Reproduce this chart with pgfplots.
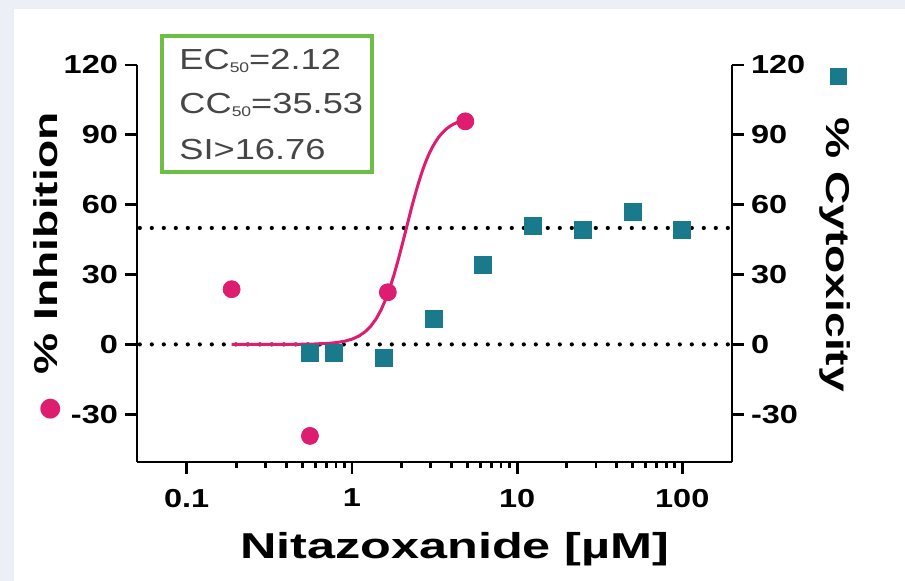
\documentclass[border=0pt]{standalone}
\usepackage{fontspec}
\setmainfont{Liberation Sans}
\newfontfamily\tickfont[FakeStretch=1.25]{Liberation Sans}
\newfontfamily\labfont[FakeStretch=1.4]{Liberation Sans}
\newfontfamily\symfont{DejaVu Sans}
\usepackage{pgfplots}
\pgfplotsset{compat=1.18}

\definecolor{pinkc}{RGB}{222,28,112}
\definecolor{tealc}{RGB}{25,122,140}
\definecolor{greenc}{RGB}{108,190,70}
\definecolor{boxtxt}{RGB}{70,70,70}
\definecolor{bgc}{RGB}{236,239,245}
\newcommand{\sub}[1]{\raisebox{-1.5pt}{\fontsize{7}{7}\selectfont #1}}

\begin{document}
\begin{tikzpicture}
\fill[bgc] (-68.5pt,-59.5pt) rectangle (384pt,231pt);
\fill[white] (-61.5pt,-59.5pt) rectangle (384pt,226.5pt);

% inhibition, left axis
\begin{axis}[
  scale only axis, width=297.5pt, height=198.5pt,
  xmode=log, xmin=0.05, xmax=200, ymin=-50.5, ymax=120,
  minor tick num=0,
  ytick={-30,0,30,60,90,120}, yticklabels={-30,0,30,60,90,120},
  tick align=outside, major tick length=6pt,
  every tick/.style={black, line width=1.4pt},
  axis line style={line width=1.4pt, black},
  tick label style={font=\tickfont\bfseries\fontsize{13}{14}\selectfont},
  clip=false,
  axis x line*=bottom, axis y line*=left,
  xtick={0.1,1,10,100}, xticklabels={0.1,1,10,100},
  xticklabel style={yshift=-4pt},
  xlabel={Nitazoxanide [µM]},
  xlabel style={font=\labfont\bfseries\fontsize{18}{20}\selectfont,
    at={(rel axis cs:0.534,-0.244)}, anchor=base},
  ylabel={{\symfont\fontsize{13}{13}\selectfont\textcolor{pinkc}{●}}\hspace{12pt}\% Inhibition},
  ylabel style={font=\labfont\bfseries\fontsize{16.5}{18}\selectfont,
    at={(rel axis cs:-0.151,0.492)}, anchor=center},
]
\addplot[black, line width=2.1pt, dash pattern=on 0pt off 6pt, line cap=round]
  coordinates {(0.052,0) (200,0)};
\addplot[black, line width=2.1pt, dash pattern=on 0pt off 6pt, line cap=round]
  coordinates {(0.052,50) (200,50)};
% fitted curve (EC50 = 2.12)
\addplot[pinkc, line width=1.5pt] coordinates {
  (0.187,0) (0.25,0) (0.35,0.01) (0.5,0.07) (0.6,0.18) (0.7,0.38)
  (0.8,0.75) (0.9,1.33) (1.0,2.24) (1.1,3.55) (1.2,5.38) (1.3,7.82)
  (1.4,10.94) (1.5,14.76) (1.6,19.28) (1.7,24.4) (1.8,30.0) (1.9,35.9)
  (2.0,41.9) (2.1,47.8) (2.2,53.5) (2.3,58.9) (2.4,63.7) (2.5,68.1)
  (2.6,72.0) (2.7,75.5) (2.8,78.5) (2.9,81.1) (3.05,84.3) (3.2,86.9)
  (3.35,89.0) (3.5,90.6) (3.7,92.3) (3.9,93.6) (4.15,94.7) (4.4,95.5)
  (4.65,96.1) (4.86,96.5)};
\addplot[only marks, mark=*, mark size=4.25pt, pinkc] coordinates {
  (0.187,23.7) (0.557,-39.3) (1.65,22.4) (4.86,95.8)};
\end{axis}

% cytotoxicity, right axis
\begin{axis}[
  scale only axis, width=297.5pt, height=198.5pt,
  xmode=log, xmin=0.05, xmax=200, ymin=-50.5, ymax=120,
  minor tick num=0,
  ytick={-30,0,30,60,90,120}, yticklabels={-30,0,30,60,90,120},
  tick align=outside, major tick length=6pt,
  every tick/.style={black, line width=1.4pt},
  axis line style={line width=1.4pt, black},
  tick label style={font=\tickfont\bfseries\fontsize{13}{14}\selectfont},
  clip=false,
  axis x line=none, axis y line*=right,
  ylabel={\textcolor{tealc}{\rule[1.6pt]{8.5pt}{8.5pt}}\hspace{16pt}\% Cytoxicity},
  ylabel style={font=\labfont\bfseries\fontsize{16.5}{18}\selectfont,
    at={(rel axis cs:1.173,0.584)}, anchor=center, rotate=180},
]
\addplot[only marks, mark=square*, mark size=4.25pt, tealc] coordinates {
  (0.557,-3.7) (0.781,-3.7) (1.5625,-5.8) (3.125,10.9) (6.25,34.3)
  (12.5,50.8) (25,49.0) (50,56.9) (100,49.0)};
\end{axis}

\draw[greenc, line width=2pt, fill=white] (12.5pt,145pt) rectangle (117.5pt,213pt);
\begin{scope}[every node/.style={anchor=base west, inner sep=0pt, text=boxtxt,
  font=\tickfont\fontsize{14.5}{16}\selectfont}]
\node at (21pt,196pt) {EC\sub{50}=2.12};
\node at (21pt,174pt) {CC\sub{50}=35.53};
\node at (21pt,151pt) {SI>16.76};
\end{scope}

\pgfresetboundingbox
\useasboundingbox (-68.5pt,-59.5pt) rectangle (384pt,231pt);
\end{tikzpicture}
\end{document}
